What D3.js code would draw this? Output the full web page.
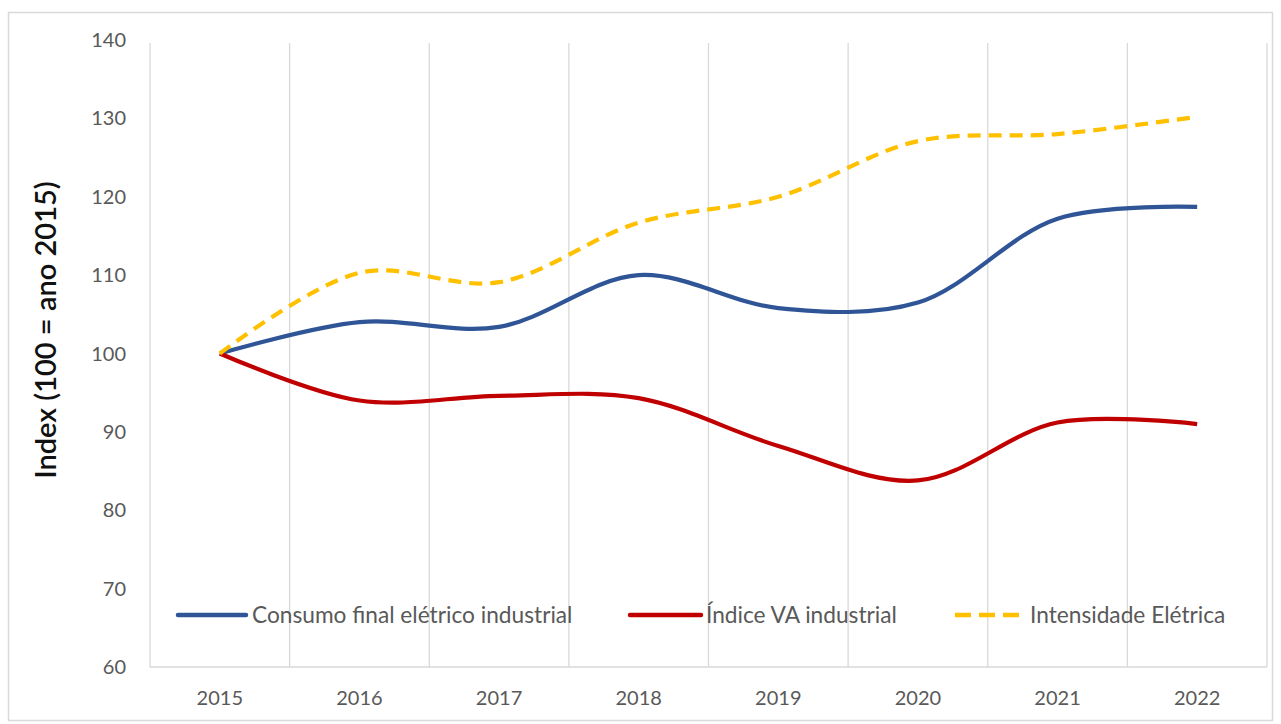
<!DOCTYPE html>
<html><head><meta charset="utf-8">
<script src="https://cdn.jsdelivr.net/npm/d3@7"></script>
<style>body{margin:0;background:#fff;} svg{display:block;}</style>
</head><body>
<script>
const years = ["2015","2016","2017","2018","2019","2020","2021","2022"];
const consumo = [100, 104.0, 103.4, 110.0, 105.8, 106.5, 117.2, 118.7];
const indiceVA = [100, 94.0, 94.6, 94.3, 88.2, 83.8, 91.2, 91.0];
const intensidade = [100, 110.3, 109.1, 116.7, 120.0, 127.1, 128.0, 130.2];
const yTicks = [60,70,80,90,100,110,120,130,140];
const seriesNames = ["Consumo final elétrico industrial","Índice VA industrial","Intensidade Elétrica"];

(function(){
const W=1281,H=724;
const svg=d3.select("body").append("svg").attr("width",W).attr("height",H);
svg.append("rect").attr("x",8.5).attr("y",12.5).attr("width",1264).attr("height",708)
  .attr("fill","#fff").attr("stroke","#d9d9d9").attr("stroke-width",1.5);

const pl=150,pr=1267,pt=40,pb=667;
const x=d3.scaleBand().domain(years).range([pl,pr]).padding(0);
const y=d3.scaleLinear().domain([60,140]).range([pb,pt]);
const font="Lato, 'Open Sans', sans-serif";

const bounds=years.map(d=>x(d)).concat([x(years[years.length-1])+x.bandwidth()]);
svg.append("g").selectAll("line").data(bounds).join("line")
  .attr("x1",d=>d).attr("x2",d=>d).attr("y1",pt+3).attr("y2",pb)
  .attr("stroke","#d9d9d9").attr("stroke-width",1.3);
svg.append("line").attr("x1",pl).attr("x2",pr).attr("y1",pb).attr("y2",pb)
  .attr("stroke","#d9d9d9").attr("stroke-width",1.5);

svg.append("g").selectAll("text").data(yTicks).join("text")
  .attr("x",126).attr("y",d=>y(d)).attr("dy","0.35em").attr("text-anchor","end")
  .attr("font-family",font).attr("font-size",20).attr("fill","#595959").text(d=>d);
svg.append("g").selectAll("text").data(years).join("text")
  .attr("x",d=>x(d)+x.bandwidth()/2).attr("y",705).attr("text-anchor","middle")
  .attr("font-family",font).attr("font-size",20).attr("fill","#595959").text(d=>d);

svg.append("text").attr("transform","translate(56,330) rotate(-90)")
  .attr("text-anchor","middle").attr("font-family",font).attr("font-size",29)
  .attr("font-weight",600).attr("fill","#111").text("Index (100 = ano 2015)");

const cx=d=>x(d)+x.bandwidth()/2;
const line=d3.line().x((d,i)=>cx(years[i])).y(d=>y(d)).curve(d3.curveCatmullRom.alpha(0.5));
const colors=["#2F5597","#C00000","#FFC000"];
const data=[consumo,indiceVA,intensidade];
const dashes=[null,null,"13,8"];
data.forEach((s,k)=>{
  svg.append("path").attr("d",line(s)).attr("fill","none").attr("stroke",colors[k])
    .attr("stroke-width",4.2).attr("stroke-dasharray",dashes[k]).attr("stroke-linejoin","round");
});

const lg=[{x1:178,x2:246,tx:252},{x1:630,x2:701,tx:706},{x1:955,x2:1022,tx:1030}];
const ly=615;
lg.forEach((l,k)=>{
  svg.append("line").attr("x1",l.x1).attr("x2",l.x2).attr("y1",ly).attr("y2",ly)
    .attr("stroke",colors[k]).attr("stroke-width",4.5).attr("stroke-dasharray",k==2?"16,8":null)
    .attr("stroke-linecap",k==2?"butt":"round");
  svg.append("text").attr("x",l.tx).attr("y",ly).attr("dy","0.35em")
    .attr("font-family",font).attr("font-size",22.7).attr("fill","#595959").text(seriesNames[k]);
});
})();
</script>
</body></html>
